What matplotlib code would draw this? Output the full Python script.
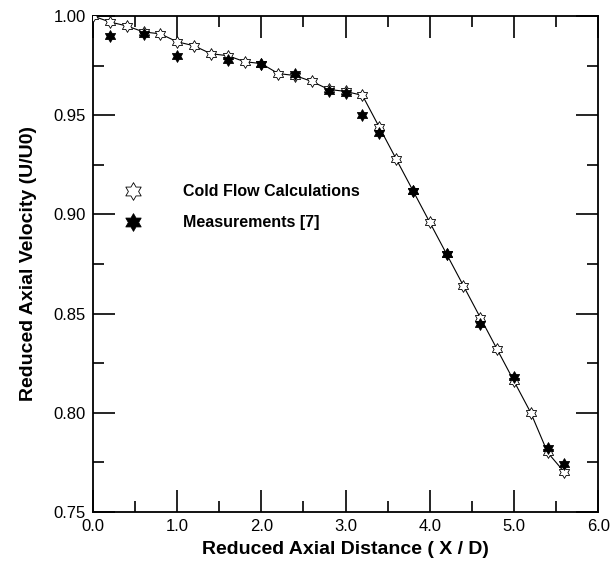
import numpy as np
import matplotlib.pyplot as plt
from matplotlib.path import Path
from matplotlib.ticker import MultipleLocator, FormatStrFormatter

plt.rcParams['font.family'] = ['Liberation Sans', 'DejaVu Sans']

# cold flow calculations
calc_x = [0.0, 0.2, 0.4, 0.6, 0.8, 1.0, 1.2, 1.4, 1.6, 1.8, 2.0, 2.2, 2.4, 2.6,
          2.8, 3.0, 3.2, 3.4, 3.6, 3.8, 4.0, 4.2, 4.4, 4.6, 4.8, 5.0, 5.2, 5.4, 5.6]
calc_y = [1.000, 0.997, 0.995, 0.992, 0.991, 0.987, 0.985, 0.981, 0.980, 0.977,
          0.976, 0.971, 0.970, 0.967, 0.963, 0.962, 0.960, 0.944, 0.928, 0.912,
          0.896, 0.880, 0.864, 0.848, 0.832, 0.816, 0.800, 0.780, 0.770]

# measurements [7]
meas_x = [0.2, 0.6, 1.0, 1.6, 2.0, 2.4, 2.8, 3.0, 3.2, 3.4, 3.8, 4.2, 4.6, 5.0, 5.4, 5.6]
meas_y = [0.990, 0.991, 0.980, 0.978, 0.976, 0.971, 0.962, 0.961, 0.950, 0.941,
          0.912, 0.880, 0.845, 0.818, 0.782, 0.774]

# six pointed star marker
ang = np.pi / 2 + np.arange(12) * np.pi / 6
rad = np.where(np.arange(12) % 2 == 0, 1.0, 0.577)
verts = np.column_stack([rad * np.cos(ang), rad * np.sin(ang)])
verts = np.vstack([verts, verts[:1]])
star6 = Path(verts, closed=True)

fig = plt.figure(figsize=(6.16, 5.62), dpi=100)
ax = fig.add_axes([0.151, 0.089, 0.820, 0.8825])

ax.plot(calc_x, calc_y, color='black', lw=0.8, zorder=2)
ax.plot(calc_x, calc_y, ls='none', marker=star6, ms=8.5, mfc='white',
        mec='black', mew=0.6, zorder=3, label='Cold Flow Calculations')
ax.plot(meas_x, meas_y, ls='none', marker=star6, ms=8.5, mfc='black',
        mec='black', mew=0.6, zorder=4, label='Measurements [7]')

ax.set_xlim(0, 6)
ax.set_ylim(0.75, 1.0)
ax.xaxis.set_major_locator(MultipleLocator(1.0))
ax.xaxis.set_minor_locator(MultipleLocator(0.5))
ax.yaxis.set_major_locator(MultipleLocator(0.05))
ax.yaxis.set_minor_locator(MultipleLocator(0.025))
ax.xaxis.set_major_formatter(FormatStrFormatter('%.1f'))
ax.yaxis.set_major_formatter(FormatStrFormatter('%.2f'))
ax.tick_params(which='both', direction='in', top=True, right=True, width=1.2,
               labelsize=12)
ax.tick_params(which='major', length=16, pad=5)
ax.tick_params(which='minor', length=8)
for s in ax.spines.values():
    s.set_linewidth(1.3)

ax.set_xlabel('Reduced Axial Distance ( X / D)', fontsize=14, fontweight='bold',
              labelpad=5)
ax.set_ylabel('Reduced Axial Velocity (U/U0)', fontsize=14, fontweight='bold',
              labelpad=12)

ax.legend(loc='upper left', bbox_to_anchor=(0.035, 0.69), frameon=False,
          handlelength=1.0, handletextpad=2.6, labelspacing=1.0, markerscale=1.5,
          prop={'weight': 'bold', 'size': 11.5})

plt.savefig('out.png', dpi=100)
